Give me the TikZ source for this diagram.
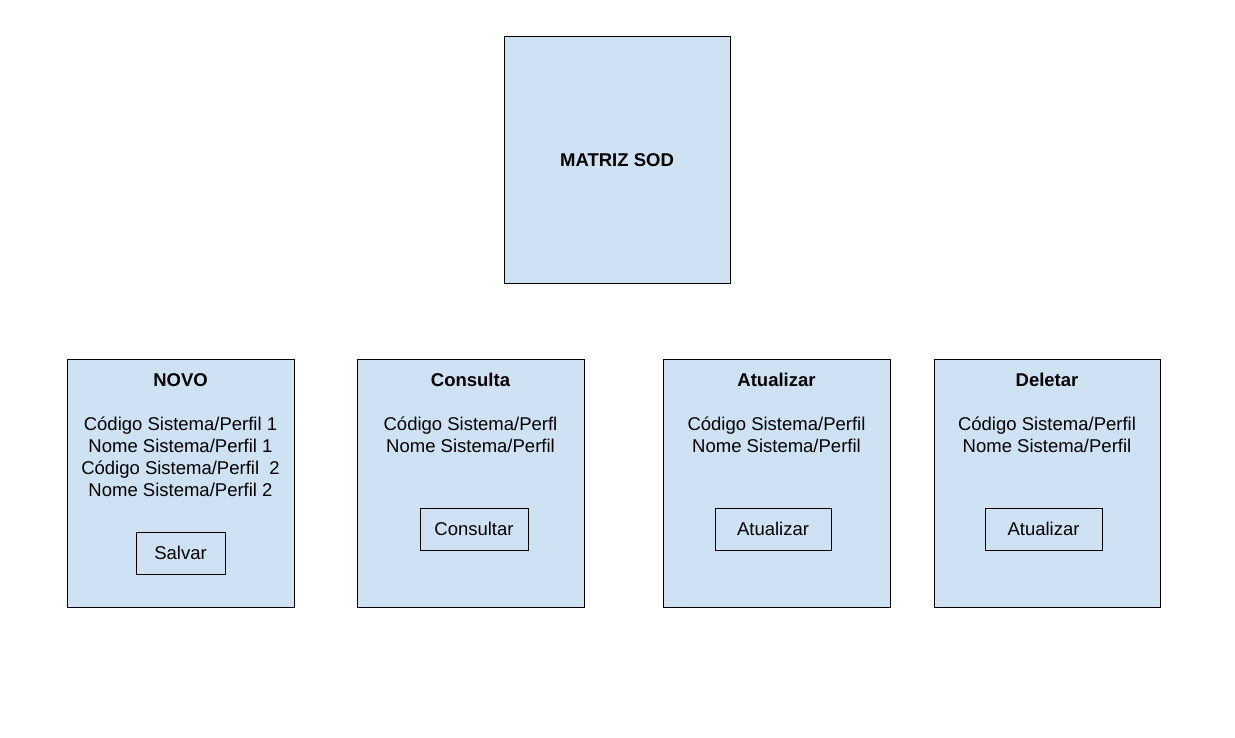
\documentclass[tikz,border=0pt]{standalone}
\usepackage{fontspec}
\setmainfont{Liberation Sans}
\definecolor{boxblue}{HTML}{CFE2F3}
\begin{document}
\begin{tikzpicture}[x=1pt,y=-1pt,
  panel/.style={draw=black, fill=boxblue, line width=0.9pt},
  btn/.style={draw=black, line width=0.9pt},
  ttl/.style={font=\fontsize{18.5}{22}\selectfont\bfseries, inner sep=0pt},
  txt/.style={font=\fontsize{18.5}{22}\selectfont, inner sep=0pt, align=center},
  btxt/.style={font=\fontsize{18.5}{22}\selectfont, inner sep=0pt}]
\useasboundingbox (0,0) rectangle (1235,738);
\fill[white] (0,0) rectangle (1235,738);
% top
\draw[panel] (504,36) rectangle (730,283);
\node[ttl] (matriz) at (617,160.5) {MATRIZ SOD};
% NOVO
\draw[panel] (67,359) rectangle (294,607);
\node[ttl] (novo) at (180.5,380) {NOVO};
\node[txt] (novotxt) at (180.5,457) {Código Sistema/Perfil 1\\Nome Sistema/Perfil 1\\Código Sistema/Perfil \ 2\\Nome Sistema/Perfil 2};
\draw[btn] (136,532) rectangle (225,574);
\node[btxt] (salvar) at (180.5,553) {Salvar};
% Consulta
\draw[panel] (357,359) rectangle (584,607);
\node[ttl] (consulta) at (470.5,380) {Consulta};
\node[txt] (constxt) at (470.5,435) {Código Sistema/Perfl\\Nome Sistema/Perfil};
\draw[btn] (420,508) rectangle (528,550);
\node[btxt] (consultar) at (474,529) {Consultar};
% Atualizar
\draw[panel] (663,359) rectangle (890,607);
\node[ttl] (atualizar) at (776.5,380) {Atualizar};
\node[txt] (atutxt) at (776.5,435) {Código Sistema/Perfil\\Nome Sistema/Perfil};
\draw[btn] (715,508) rectangle (831,550);
\node[btxt] (atubtn) at (773,529) {Atualizar};
% Deletar
\draw[panel] (934,359) rectangle (1160,607);
\node[ttl] (deletar) at (1047,380) {Deletar};
\node[txt] (deltxt) at (1047,435) {Código Sistema/Perfil\\Nome Sistema/Perfil};
\draw[btn] (985,508) rectangle (1102,550);
\node[btxt] (delbtn) at (1043.5,529) {Atualizar};
\end{tikzpicture}
\end{document}
